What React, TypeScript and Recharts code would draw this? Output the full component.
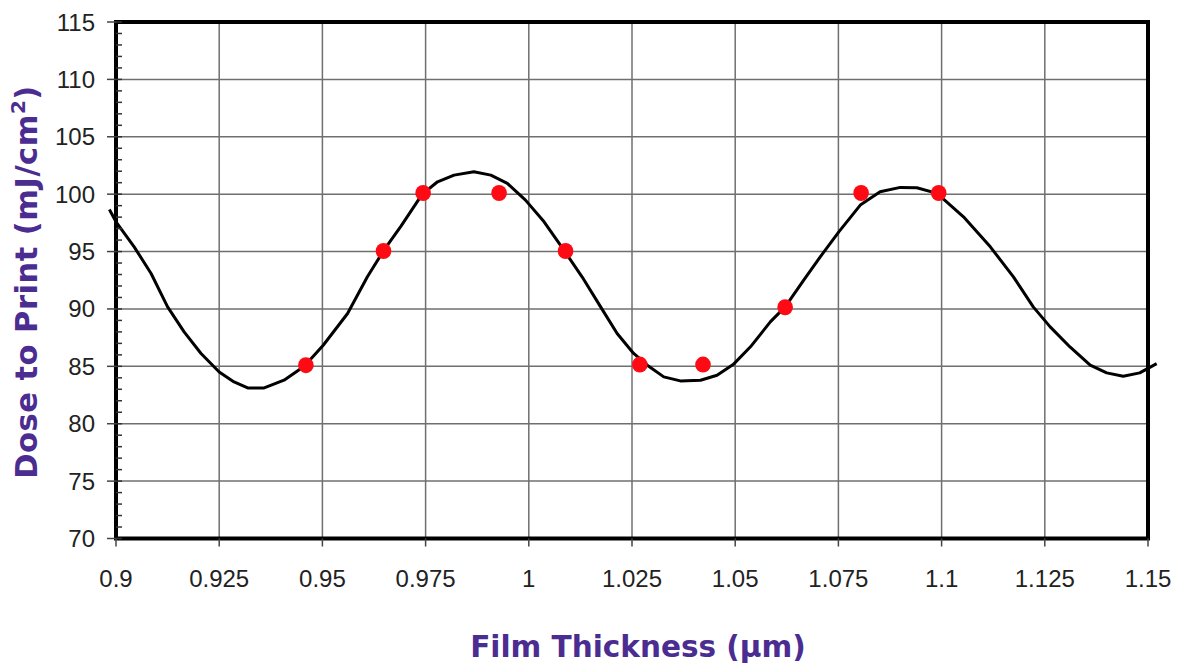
import React from 'react';
import {
  ComposedChart,
  Line,
  Scatter,
  XAxis,
  YAxis,
  CartesianGrid,
  ReferenceArea,
  Label,
} from 'recharts';

// ---------- data ----------
const xTicks = [0.9, 0.925, 0.95, 0.975, 1, 1.025, 1.05, 1.075, 1.1, 1.125, 1.15];
const yTicks = [70, 75, 80, 85, 90, 95, 100, 105, 110, 115];

// simulated swing curve (black line)
const curveX = [
  0.8984, 0.9, 0.9044, 0.9085, 0.9125, 0.9165, 0.9206, 0.925, 0.9286, 0.9319,
  0.9359, 0.9407, 0.9456, 0.9502, 0.9561, 0.9609, 0.9649, 0.969, 0.9742, 0.9779,
  0.9819, 0.9867, 0.9908, 0.9948, 0.9992, 1.0037, 1.0085, 1.0129, 1.0174, 1.0214,
  1.0254, 1.0287, 1.0327, 1.0367, 1.0416, 1.0456, 1.0495, 1.0537, 1.0585, 1.0621,
  1.0666, 1.0706, 1.0751, 1.0803, 1.0851, 1.09, 1.094, 1.0989, 1.1053, 1.1118,
  1.1174, 1.1222, 1.1263, 1.1311, 1.136, 1.14, 1.144, 1.148, 1.1521,
];
const curveY = [
  98.67, 97.59, 95.41, 93.09, 90.18, 88.0, 86.12, 84.51, 83.64, 83.12,
  83.12, 83.79, 85.0, 86.84, 89.6, 92.8, 95.12, 97.2, 100.0, 101.08,
  101.66, 101.95, 101.66, 100.94, 99.48, 97.59, 95.12, 92.8, 90.18, 87.86,
  86.12, 85.1, 84.08, 83.73, 83.79, 84.22, 85.15, 86.7, 88.87, 90.18,
  92.51, 94.54, 96.72, 99.05, 100.21, 100.59, 100.56, 100.07, 98.03, 95.41,
  92.8, 90.18, 88.44, 86.69, 85.1, 84.43, 84.14, 84.43, 85.24,
];

// measured points (red dots)
const pointX = [0.946, 0.9648, 0.9744, 0.9928, 1.0089, 1.0269, 1.0422, 1.0621, 1.0805, 1.0993];
const pointY = [85.1, 95.05, 100.1, 100.1, 95.05, 85.15, 85.15, 90.15, 100.1, 100.1];

const xTitle = 'Film Thickness (\u00b5m)';
const yTitleMain = 'Dose to Print (mJ/cm';
const yTitleSup = '2';
const yTitleEnd = ')';

// ---------- layout ----------
const W = 1179;
const H = 666;
const PLOT_LEFT = 116;
const PLOT_RIGHT = 1148;
const PLOT_TOP = 22;
const PLOT_BOTTOM = 538.5;
const X_MIN = 0.9;
const X_MAX = 1.15;
const Y_MIN = 70;
const Y_MAX = 115;
const Y_MAJOR_STEP = 5;

const TITLE_COLOR = '#4b2c91';
const TICK_FONT = 'Liberation Sans, Arial, sans-serif';
const TITLE_FONT = 'DejaVu Sans, Verdana, sans-serif';

const curveData = curveX.map((x, i) => ({ x, y: curveY[i] }));
const pointData = pointX.map((x, i) => ({ x, y: pointY[i] }));
const yAllTicks = Array.from({ length: Y_MAX - Y_MIN + 1 }, (_, i) => Y_MIN + i);

const pxPerX = (PLOT_RIGHT - PLOT_LEFT) / (X_MAX - X_MIN);
const curvePadLeft = -(X_MIN - curveX[0]) * pxPerX;
const curvePadRight = -(curveX[curveX.length - 1] - X_MAX) * pxPerX;

const Dot = (props: any) => {
  const { cx, cy } = props;
  if (cx == null || cy == null) return null;
  return <ellipse cx={cx} cy={cy} rx={7.8} ry={8} fill="#ff0a14" />;
};

// Y tick: major ticks get outside tick mark + label; every unit gets an inside minor tick
const YTick = (props: any) => {
  const { y, payload } = props;
  const v = payload?.value;
  const isMajor = (v - Y_MIN) % Y_MAJOR_STEP === 0;
  return (
    <g>
      <line x1={PLOT_LEFT} x2={PLOT_LEFT + 6} y1={y} y2={y} stroke="#333" strokeWidth={1.5} />
      {isMajor && (
        <>
          <line x1={PLOT_LEFT - 9} x2={PLOT_LEFT} y1={y} y2={y} stroke="#444" strokeWidth={1.5} />
          <text
            x={PLOT_LEFT - 21}
            y={y}
            dy="0.355em"
            textAnchor="end"
            fontFamily={TICK_FONT}
            fontSize={24}
            fill="#222"
          >
            {v}
          </text>
        </>
      )}
    </g>
  );
};

const XTitle = () => (
  <text
    x={(PLOT_LEFT + PLOT_RIGHT) / 2 + 6}
    y={657}
    textAnchor="middle"
    fontFamily={TITLE_FONT}
    fontWeight="bold"
    fontSize={29.5}
    fill={TITLE_COLOR}
  >
    {xTitle}
  </text>
);

const YTitle = () => {
  const cx = 37;
  const cy = 282;
  return (
    <text
      x={cx}
      y={cy}
      transform={`rotate(-90 ${cx} ${cy})`}
      textAnchor="middle"
      fontFamily={TITLE_FONT}
      fontWeight="bold"
      fontSize={30.5}
      letterSpacing={0.5}
      fill={TITLE_COLOR}
    >
      {yTitleMain}
      <tspan fontSize={20} dy={-12}>
        {yTitleSup}
      </tspan>
      <tspan dy={12}>{yTitleEnd}</tspan>
    </text>
  );
};

export default function App() {
  return (
    <div style={{ position: 'absolute', left: 0, top: 0, width: W, height: H, background: '#fff' }}>
      <ComposedChart
        width={W}
        height={H}
        margin={{ top: PLOT_TOP, right: W - PLOT_RIGHT, bottom: 0, left: 0 }}
      >
        <CartesianGrid
          stroke="#6f6f6f"
          strokeWidth={1.5}
          horizontalValues={yTicks}
          verticalValues={xTicks}
        />
        <XAxis
          type="number"
          dataKey="x"
          domain={[X_MIN, X_MAX]}
          ticks={xTicks}
          interval={0}
          height={H - PLOT_BOTTOM}
          axisLine={false}
          tickLine={{ stroke: '#444', strokeWidth: 1.5 }}
          tickSize={8}
          tickMargin={23}
          tick={{ fontFamily: TICK_FONT, fontSize: 24, fill: '#222' }}
        >
          <Label content={<XTitle />} />
        </XAxis>
        <XAxis
          xAxisId="curve"
          type="number"
          dataKey="x"
          domain={['dataMin', 'dataMax']}
          padding={{ left: curvePadLeft, right: curvePadRight }}
          hide
        />
        <YAxis
          type="number"
          dataKey="y"
          domain={[Y_MIN, Y_MAX]}
          ticks={yAllTicks}
          interval={0}
          width={PLOT_LEFT}
          axisLine={false}
          tickLine={false}
          tickSize={9}
          tickMargin={12}
          tick={<YTick />}
        >
          <Label content={<YTitle />} />
        </YAxis>
        <ReferenceArea
          x1={X_MIN}
          x2={X_MAX}
          y1={Y_MIN}
          y2={Y_MAX}
          fill="none"
          fillOpacity={0}
          stroke="#000"
          strokeWidth={4}
          ifOverflow="visible"
        />
        <Line
          xAxisId="curve"
          data={curveData}
          dataKey="y"
          type="linear"
          stroke="#000"
          strokeWidth={3}
          strokeLinejoin="round"
          dot={false}
          activeDot={false}
          isAnimationActive={false}
        />
        <Scatter
          data={pointData}
          dataKey="y"
          fill="#ff0a14"
          shape={<Dot />}
          isAnimationActive={false}
        />
      </ComposedChart>
    </div>
  );
}
